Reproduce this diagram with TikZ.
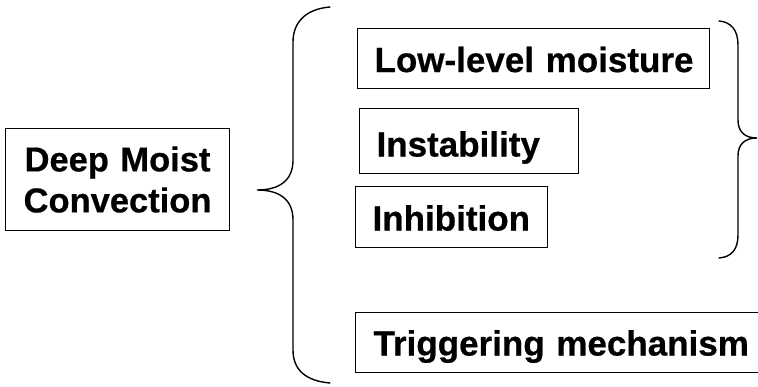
\documentclass[tikz,border=0pt]{standalone}
\usepackage{fontspec}
\setmainfont{Liberation Sans}[BoldFeatures={FakeBold=0.6}]
\begin{document}
\begin{tikzpicture}[x=1pt,y=-1pt,
  box/.style={draw, line width=1.1pt, inner ysep=0pt, align=left, anchor=north west,
    font=\fontsize{35}{41}\selectfont\bfseries},
  brace/.style={line width=1.4pt, line cap=round}]
\clip (0,0) rectangle (758,387);
\fill[white] (0,0) rectangle (758,387);
% main box
\node[box, align=center, inner xsep=0pt, text width=224pt, minimum height=102pt,
  font=\fontsize{34.5}{41}\selectfont\bfseries] (dmc) at (5,128) {Deep Moist\\Convection};
% ingredient boxes
\node[box, inner xsep=17pt, text width=318pt, text height=43.5pt, text depth=16.5pt] (lm) at (357,28) {\mbox{Low-level moisture}};
\node[box, inner xsep=17pt, text width=185pt, text height=48pt, text depth=17pt] (ins) at (359,108) {\mbox{Instability}};
\node[box, inner xsep=17pt, text width=158pt, text height=44pt, text depth=17pt] (inh) at (355,186) {\mbox{Inhibition}};
\node[box, inner xsep=18pt, text width=400pt, text height=43pt, text depth=17pt] (trg) at (355,312) {\mbox{Triggering mechanism}};
% left brace
\draw[brace] (330,7) .. controls (306,9) and (293,22) .. (293,42) -- (293,160)
  .. controls (293,180) and (280,190) .. (257,190)
  .. controls (280,190) and (293,200) .. (293,220) -- (293,350)
  .. controls (293,370) and (306,381) .. (330,383);
% right brace
\draw[brace] (719,21) .. controls (731,22) and (738,30) .. (738,45) -- (738,120)
  .. controls (738,132) and (745,138) .. (757,138)
  .. controls (745,138) and (738,144) .. (738,156) -- (738,235)
  .. controls (738,250) and (731,257) .. (719,258);
\end{tikzpicture}
\end{document}
